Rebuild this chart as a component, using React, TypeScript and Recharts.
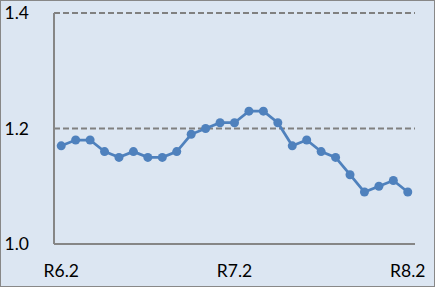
import React from "react";
import { LineChart, Line, XAxis, YAxis, CartesianGrid } from "recharts";

const categories = [
  "R6.2", "R6.3", "R6.4", "R6.5", "R6.6", "R6.7", "R6.8", "R6.9", "R6.10", "R6.11", "R6.12", "R7.1",
  "R7.2", "R7.3", "R7.4", "R7.5", "R7.6", "R7.7", "R7.8", "R7.9", "R7.10", "R7.11", "R7.12", "R8.1",
  "R8.2",
];
const values = [
  1.17, 1.18, 1.18, 1.16, 1.15, 1.16, 1.15, 1.15, 1.16, 1.19, 1.2, 1.21,
  1.21, 1.23, 1.23, 1.21, 1.17, 1.18, 1.16, 1.15, 1.12, 1.09, 1.1, 1.11,
  1.09,
];
const yTicks = [1.0, 1.2, 1.4];

const data = categories.map((c, i) => ({ name: c, value: values[i] }));

const FONT = "Lato, 'Open Sans', sans-serif";

export default function App() {
  return (
    <div style={{ position: "fixed", left: 0, top: 0, width: 435, height: 287, background: "#dce6f2" }}>
      <LineChart
        width={435}
        height={287}
        data={data}
        margin={{ top: 13, right: 20, bottom: 0, left: 0 }}
      >
        <CartesianGrid vertical={false} stroke="#808080" strokeWidth={2} strokeDasharray="6 3" />
        <XAxis
          dataKey="name"
          scale="band"
          interval={11}
          height={43}
          tickLine={false}
          tickSize={0}
          tickMargin={21}
          axisLine={{ stroke: "#868686", strokeWidth: 2 }}
          tick={{ fill: "#000", fontSize: 17.5, fontFamily: FONT }}
        />
        <YAxis
          domain={[1.0, 1.4]}
          ticks={yTicks}
          width={54}
          tickLine={false}
          tickSize={0}
          tickMargin={25}
          tickFormatter={(v: number) => v.toFixed(1)}
          axisLine={{ stroke: "#868686", strokeWidth: 2 }}
          tick={{ fill: "#000", fontSize: 17.5, fontFamily: FONT }}
        />
        <Line
          type="linear"
          dataKey="value"
          stroke="#4f81bd"
          strokeWidth={2.75}
          dot={{ r: 4.5, fill: "#4f81bd", stroke: "#4f81bd", strokeWidth: 0 }}
          isAnimationActive={false}
        />
      </LineChart>
      <div
        style={{
          position: "absolute",
          left: 0,
          top: 0,
          width: 435,
          height: 287,
          boxSizing: "border-box",
          border: "1px solid #888",
          pointerEvents: "none",
        }}
      />
    </div>
  );
}
